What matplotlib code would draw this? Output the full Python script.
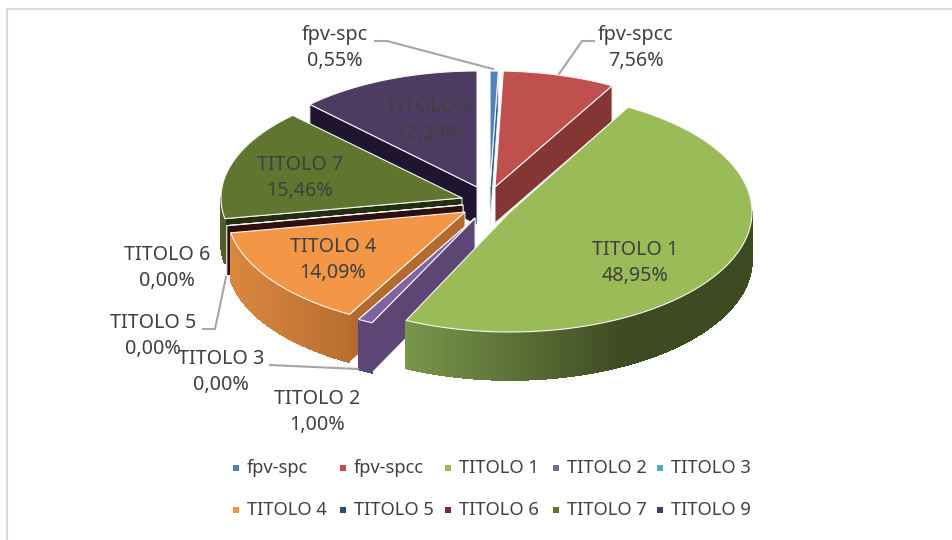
#!/usr/bin/env python
# -*- coding: utf-8 -*-
"""Exploded 3D style pie chart, drawn by hand on pixel coordinates."""

import numpy as np
import matplotlib
matplotlib.use('Agg')
import matplotlib.pyplot as plt
from matplotlib.colors import to_rgb

# Data
categories = ['fpv-spc', 'fpv-spcc', 'TITOLO 1', 'TITOLO 2', 'TITOLO 3',
              'TITOLO 4', 'TITOLO 5', 'TITOLO 6', 'TITOLO 7', 'TITOLO 9']
values = [0.55, 7.56, 48.95, 1.00, 0.00, 14.09, 0.00, 0.00, 15.46, 12.39]

# Colours
top_colors = ['#4f81bd', '#c0504d', '#9bbb59', '#8064a2', '#4bacc6',
              '#f39645', '#2c4d75', '#772c2a', '#5f7530', '#4d3b62']
wall_colors = ['#376092', '#843634', '#66803a', '#5d4575', '#31859b',
               '#b36a2e', '#1c2f48', '#300f10', '#252e10', '#1f1530']
rim_left = ['#376092', '#843634', '#78964a', '#5d4575', '#31859b',
            '#da873f', '#1c2f48', '#300f10', '#4d6028', '#1f1530']
rim_right = ['#376092', '#843634', '#3e4a22', '#5d4575', '#31859b',
             '#b86e30', '#1c2f48', '#300f10', '#4d6028', '#1f1530']
rim_span = [(0, 1), (0, 1), (408, 625), (0, 1), (0, 1),
            (230, 352), (0, 1), (0, 1), (0, 1), (0, 1)]

# Layout of every slice, pixels: tip of the slice, radii and thickness
tip_x = [490, 495, 510, 475, 475, 465, 463, 463, 462, 477]
tip_y = [187, 187, 212, 218, 218, 212, 205, 205, 198, 187]
radius_x = [240, 240, 242, 240, 240, 238, 240, 240, 241, 238]
radius_y = [116, 116, 120, 116, 116, 117, 116, 116, 116, 116]
depth = [38, 36, 48, 50, 50, 48, 50, 50, 45, 38]
draw_order = [9, 8, 6, 7, 0, 1, 5, 4, 3, 2]

# Layout of the labels: centre of the two line block
label_x = [335, 636, 635, 317, 221, 333, 153, 167, 300, 429]
label_y = [48, 48, 263, 412, 372, 260, 336, 268, 178, 120]
leaders = {
    0: [(375, 41), (387, 41), (493, 69)],
    1: [(594, 41), (582, 41), (559, 74)],
    4: [(270, 365), (358, 369)],
    6: [(203, 329), (215, 329), (226, 277)],
}

TEXT_COLOR = '#404040'
LEADER_COLOR = '#a6a6a6'
LEGEND_X = [236, 343, 448, 556, 660]
LEGEND_Y = [468, 510]
LEGEND_TEXT_GAP = 11


def rim_point(i, theta):
  """Returns the point of slice `i` on its top ellipse at angle `theta`."""
  return (tip_x[i] + radius_x[i] * np.sin(theta),
          tip_y[i] - radius_y[i] * np.cos(theta))


def blend(color_a, color_b, t):
  a, b = np.array(to_rgb(color_a)), np.array(to_rgb(color_b))
  return tuple(a + (b - a) * min(max(t, 0.0), 1.0))


def draw_wall(ax, i, theta):
  x, y = rim_point(i, theta)
  ax.fill([tip_x[i], x, x, tip_x[i]],
          [tip_y[i], y, y + depth[i], tip_y[i] + depth[i]],
          facecolor=wall_colors[i], edgecolor='#f2f2f2', lw=0.7)


def draw_slice(ax, i, start, end):
  """Draws walls, outer side and top of slice `i`, clockwise from the top."""
  if np.sin(start) < 0:
    draw_wall(ax, i, start)
  if np.sin(end) > 0:
    draw_wall(ax, i, end)

  # Outer side, only the part that faces the viewer.
  low, high = max(start, np.pi / 2), min(end, 3 * np.pi / 2)
  if high > low:
    thetas = np.linspace(low, high, int(np.degrees(high - low)) * 2 + 2)
    for a, b in zip(thetas[:-1], thetas[1:]):
      xa, ya = rim_point(i, a)
      xb, yb = rim_point(i, b)
      t = (0.5 * (xa + xb) - rim_span[i][0]) / (rim_span[i][1] - rim_span[i][0])
      color = blend(rim_left[i], rim_right[i], t)
      ax.fill([xa, xb, xb, xa], [ya, yb, yb + depth[i], ya + depth[i]],
              facecolor=color, edgecolor=color, lw=0.5, antialiased=False)

  # Top face.
  thetas = np.linspace(start, end, max(int(np.degrees(end - start)) * 2, 2))
  xs, ys = rim_point(i, thetas)
  ax.fill(np.r_[tip_x[i], xs], np.r_[tip_y[i], ys],
          facecolor=top_colors[i], edgecolor='#f7f7f7', lw=0.8)


def main():
  plt.rcParams['font.family'] = ['Noto Sans', 'DejaVu Sans']
  fig = plt.figure(figsize=(9.53, 5.4), dpi=100)
  ax = fig.add_axes([0, 0, 1, 1])
  ax.set_xlim(0, 953)
  ax.set_ylim(540, 0)
  ax.axis('off')

  # Chart frame, only top and left are in the picture.
  ax.plot([7, 7, 952], [540, 9, 9], color='#d9d9d9', lw=1.5,
          solid_joinstyle='miter')

  # Slices, far ones first.
  bounds = 2 * np.pi * np.r_[0, np.cumsum(values)] / sum(values)
  for i in draw_order:
    draw_slice(ax, i, bounds[i], bounds[i + 1])

  # Leader lines.
  for points in leaders.values():
    xs, ys = zip(*points)
    ax.plot(xs, ys, color=LEADER_COLOR, lw=1.5)

  # Data labels.
  for i, name in enumerate(categories):
    text = '%s\n%s%%' % (name, ('%.2f' % values[i]).replace('.', ','))
    ax.text(label_x[i], label_y[i], text, ha='center', va='center',
            fontsize=14.2, linespacing=1.45, color=TEXT_COLOR)

  # Legend.
  for i, name in enumerate(categories):
    x, y = LEGEND_X[i % 5], LEGEND_Y[i // 5]
    ax.scatter([x], [y], marker='s', s=25, color=top_colors[i], linewidths=0)
    ax.text(x + LEGEND_TEXT_GAP, y, name, ha='left', va='center',
            fontsize=13.2, color=TEXT_COLOR)

  fig.savefig('out.png', dpi=100)
  plt.close(fig)


if __name__ == '__main__':
  main()
